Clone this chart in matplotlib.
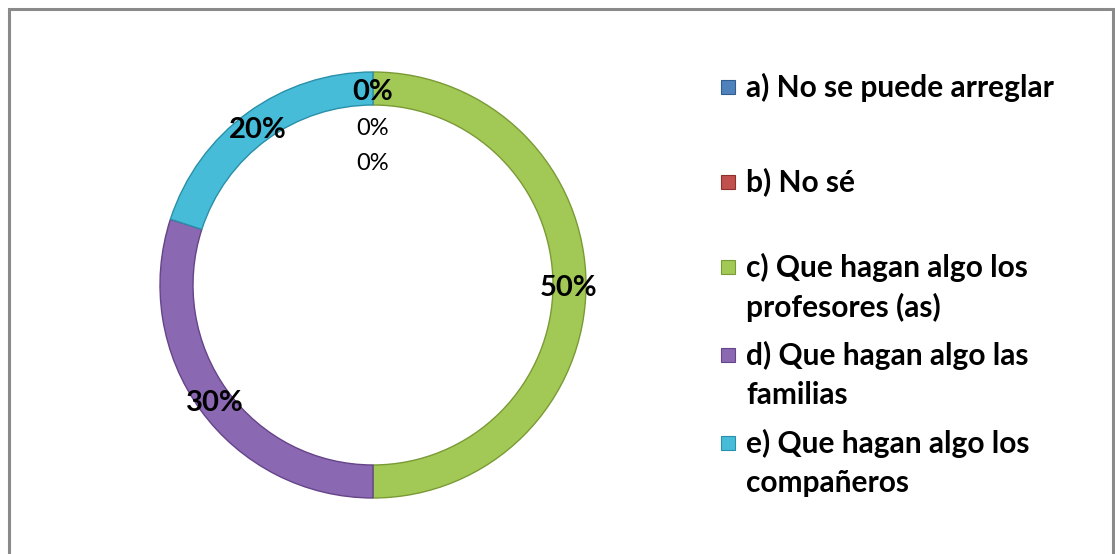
import matplotlib
matplotlib.use("Agg")
import matplotlib.pyplot as plt
from matplotlib.patches import Rectangle
import numpy as np

categories = ["a) No se puede arreglar", "b) No sé",
              "c) Que hagan algo los\nprofesores (as)",
              "d) Que hagan algo las\nfamilias",
              "e) Que hagan algo los\ncompañeros"]
values = [0, 0, 50, 30, 20]
pct_labels = ["0%", "0%", "50%", "30%", "20%"]
extra_labels = ["0%", "0%"]  # small overlapping labels below the top
colors = ["#4F81BD", "#C0504D", "#A2C955", "#8B68B2", "#47BCD9"]
edges = ["#2F5E8E", "#8E2F2C", "#7A9A35", "#654489", "#2A8FA8"]

W, H = 1115, 554
fig = plt.figure(figsize=(W / 100, H / 100), dpi=100)
fig.patch.set_facecolor("white")
FONT = ["Lato", "DejaVu Sans"]

# outer border
fig.add_artist(Rectangle((9 / W, -0.02), (1113 - 9) / W, (H - 9) / H + 0.02,
                         transform=fig.transFigure, fill=False,
                         edgecolor="#8A8A8A", linewidth=2.2))

cx, cy, R = 373, H - 285, 213
ax = fig.add_axes([(cx - R) / W, (cy - R) / H, 2 * R / W, 2 * R / H])

wedges, _ = ax.pie(values, radius=1, startangle=90, counterclock=False,
                   colors=colors, wedgeprops=dict(width=0.155, linewidth=1.0))
for w, e in zip(wedges, edges):
    w.set_edgecolor(e)
ax.set_xlim(-1, 1)
ax.set_ylim(-1, 1)
ax.set_aspect("equal")
ax.axis("off")

total = sum(values)
start = 0.0
shown_zero = False
for v, lab in zip(values, pct_labels):
    mid = start + v / total * 360 / 2
    start += v / total * 360
    if v == 0:
        if shown_zero:
            continue
        shown_zero = True
    r = 0.92
    x, y = r * np.sin(np.radians(mid)), r * np.cos(np.radians(mid)) - 0.015
    ax.text(x, y, lab, ha="center", va="center", fontsize=21,
            fontweight="bold", family=FONT, color="black")
# overlapping zero labels shifted below the top
for i, lab in enumerate(extra_labels):
    ax.text(0, 0.92 - 0.165 * (i + 1) - 0.02, lab, ha="center", va="center",
            fontsize=17, family=FONT, color="black")

# legend
ys = [87, 182, 267, 355, 443]
for c, e, lab, y in zip(colors, edges, categories, ys):
    fig.add_artist(Rectangle((721 / W, (H - y - 7) / H), 14 / W, 14 / H,
                             transform=fig.transFigure, facecolor=c,
                             edgecolor=e, linewidth=0.8))
    for i, line in enumerate(lab.split("\n")):
        fig.text(746 / W, (H - y - 40 * i) / H, line, ha="left",
                 va="center", fontsize=21.5, fontweight="bold", family=FONT)

fig.savefig("out.png", dpi=100)
